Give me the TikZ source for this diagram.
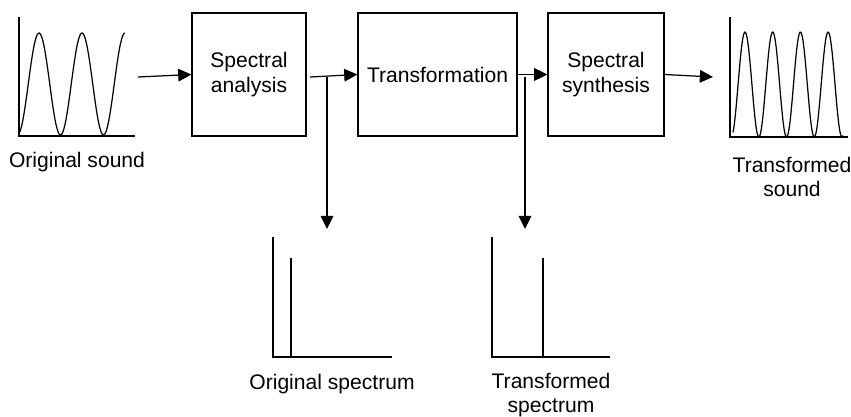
\documentclass[tikz,border=0pt]{standalone}
\usepackage{fontspec}
\setmainfont{Liberation Sans}
\usetikzlibrary{arrows.meta,positioning}

\tikzset{
  block/.style={draw, line width=0.7pt, minimum height=2.46cm, align=center,
    inner sep=0pt, font=\fontsize{12}{14}\selectfont},
  lbl/.style={align=center, inner sep=0pt, font=\fontsize{12}{14}\selectfont},
  arr/.style={line width=0.7pt, -{Triangle[length=7.5pt,width=7.2pt]}},
  ax/.style={line width=0.7pt}
}

\begin{document}
\begin{tikzpicture}[x=0.02cm,y=-0.02cm]
  \useasboundingbox (0,0) rectangle (851,416);
  % Blocks
  \node[block, minimum width=2.28cm] (analysis) at (249,74.5) {Spectral\\analysis};
  \node[block, minimum width=3.18cm] (transf) at (437.5,74.5) {Transformation};
  \node[block, minimum width=2.32cm] (synth) at (606,74.5) {Spectral\\synthesis};

  % Original sound
  \draw[ax] (19,17) |- (135,136);
  \draw[line width=0.7pt] plot[domain=20:125, samples=120, smooth]
        (\x, {84 - 51*cos(8.372*(\x-39))});
  \node[lbl] (origsound) at (77,162) {Original sound};
  \coordinate (osend) at (138,77);

  % Transformed sound
  \draw[ax] (730,17) |- (848,137);
  \draw[line width=0.7pt] plot[domain=733:843, samples=160, smooth]
        (\x, {84.5 - 52.5*cos(12.996*(\x-745))});
  \node[lbl] (transsound) at (792,177) {Transformed\\sound};
  \coordinate (tsstart) at (713,77);

  % Signal path
  \draw[arr] (osend) -- (analysis.west);
  \coordinate (a1) at (310,77);
  \draw[arr] (a1) -- (transf.west);
  \draw[arr] (transf.east) -- (synth.west);
  \draw[arr] (synth.east) -- (tsstart);

  % Branches to the spectra
  \coordinate (br1) at (327,77);
  \coordinate (br2) at (525,77);
  \coordinate (sp1) at (327,229);
  \coordinate (sp2) at (525,229);
  \draw[arr] (br1) -- (sp1);
  \draw[arr] (br2) -- (sp2);

  % Original spectrum
  \draw[ax] (273,237) |- (392,357);
  \draw[ax] (291,258) -- (291,357);
  \node[lbl] (origspec) at (332,384) {Original spectrum};

  % Transformed spectrum
  \draw[ax] (492,237) |- (610,357);
  \draw[ax] (543,258) -- (543,357);
  \node[lbl] (transspec) at (551,395) {Transformed\\spectrum};
\end{tikzpicture}
\end{document}
